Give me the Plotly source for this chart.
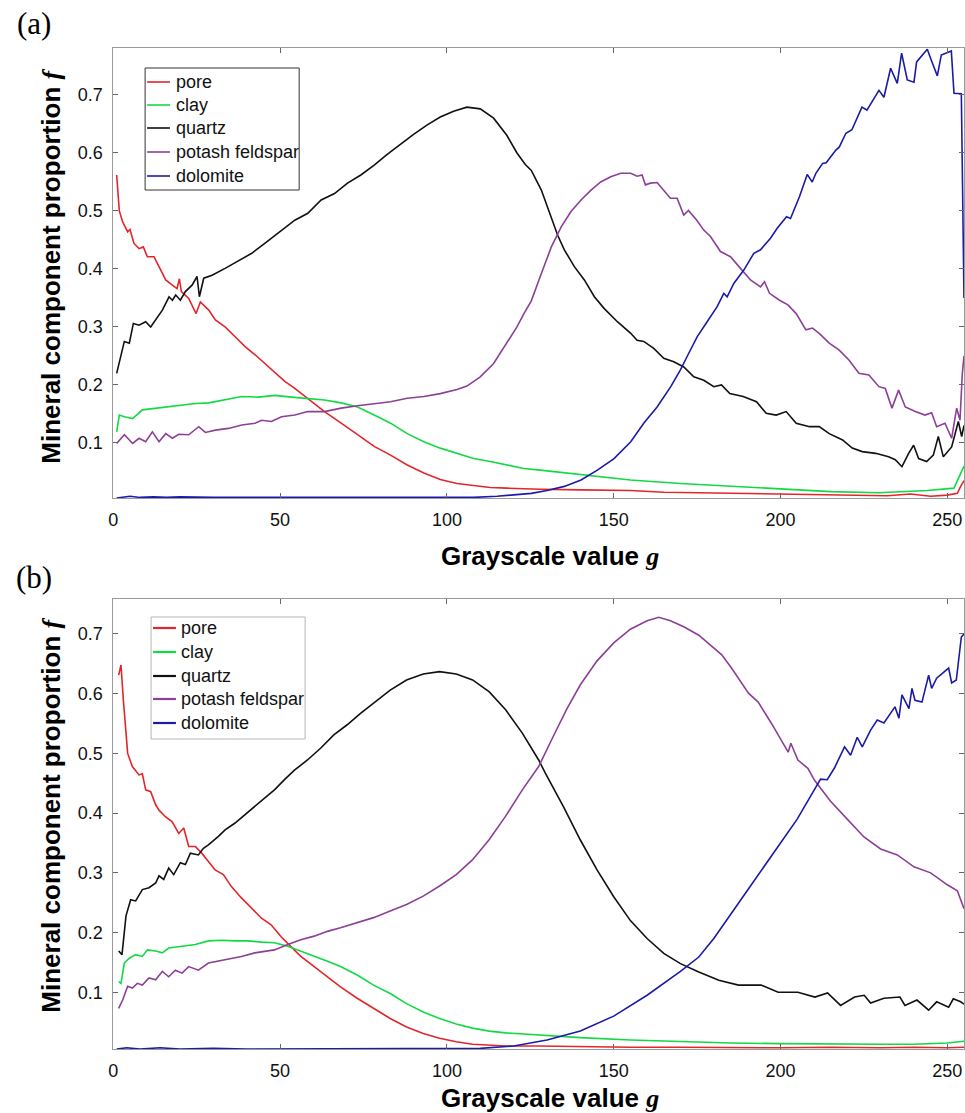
import plotly.graph_objects as go

# ---------------- Panel (a) data ----------------
a_pore_g = [1, 1.8, 2.8, 4.3, 5, 6.2, 7.7, 9, 10.2, 12.2, 13.7, 15.7, 17.7, 19.1, 19.8, 20.4, 22.6, 24.8, 26.1, 28.6, 30.6, 33.5, 36.5, 39.5, 42.5, 45.4, 48.4, 51.4, 54.4, 58.3, 63.3, 68.3, 73.2, 78.2, 83.1, 88.1, 93.1, 98, 103, 108, 113, 118, 128, 140, 155, 165, 175, 188, 200, 212, 224, 232, 239, 245, 250, 253, 254, 255]
a_pore_f = [0.562, 0.500, 0.481, 0.464, 0.468, 0.444, 0.435, 0.438, 0.421, 0.421, 0.404, 0.381, 0.372, 0.366, 0.383, 0.361, 0.349, 0.323, 0.343, 0.329, 0.312, 0.300, 0.283, 0.266, 0.252, 0.237, 0.220, 0.206, 0.194, 0.177, 0.154, 0.134, 0.114, 0.094, 0.079, 0.062, 0.048, 0.037, 0.030, 0.026, 0.023, 0.022, 0.020, 0.019, 0.018, 0.015, 0.014, 0.013, 0.012, 0.011, 0.010, 0.009, 0.012, 0.008, 0.010, 0.013, 0.025, 0.035]

a_clay_g = [1, 1.8, 3.3, 5.8, 8.7, 12.7, 16.7, 20.6, 24.6, 28.6, 33.5, 38.5, 43.5, 48.4, 53.4, 58.3, 63.3, 68.3, 73.2, 78.2, 83.1, 88.1, 93.1, 98, 103, 108, 113, 118, 123, 128, 140, 155, 170, 185, 200.7, 215, 229.5, 244, 252, 254, 255]
a_clay_f = [0.119, 0.148, 0.145, 0.142, 0.157, 0.160, 0.162, 0.165, 0.168, 0.169, 0.174, 0.180, 0.179, 0.182, 0.179, 0.177, 0.174, 0.169, 0.162, 0.148, 0.134, 0.116, 0.102, 0.091, 0.082, 0.073, 0.068, 0.062, 0.056, 0.053, 0.045, 0.036, 0.030, 0.025, 0.020, 0.016, 0.014, 0.018, 0.022, 0.048, 0.060]

a_quartz_g = [1, 2.3, 3.3, 4.8, 6, 7.7, 9.7, 11.2, 12.7, 14.7, 16.7, 17.7, 18.7, 20.1, 21.6, 23.6, 25.1, 25.8, 27.1, 29.6, 33.5, 38.5, 41.5, 45.4, 50.4, 54.4, 58.3, 62.3, 66.3, 70.2, 74.2, 78.2, 82, 86, 90, 94, 98, 102, 106, 110, 114, 118, 121, 123.5, 125.3, 128.3, 131.3, 133.2, 135.2, 138.2, 141.2, 144.2, 147.1, 151.1, 155.1, 157, 159, 162, 165, 168, 171, 174, 177, 180, 182.3, 184.8, 188.8, 192.8, 195.7, 198.7, 201.7, 204.7, 208.7, 211.6, 214.6, 218.6, 221.5, 224.5, 228.5, 232.4, 234.4, 236.4, 238.4, 239.9, 241.4, 243.8, 245.8, 247.3, 248.8, 251.3, 253.3, 254.3, 255]
a_quartz_f = [0.220, 0.254, 0.275, 0.272, 0.306, 0.303, 0.309, 0.300, 0.312, 0.329, 0.352, 0.346, 0.355, 0.346, 0.361, 0.372, 0.387, 0.352, 0.384, 0.389, 0.401, 0.418, 0.427, 0.444, 0.467, 0.484, 0.496, 0.519, 0.530, 0.548, 0.562, 0.579, 0.597, 0.615, 0.632, 0.648, 0.662, 0.672, 0.679, 0.676, 0.660, 0.630, 0.600, 0.580, 0.570, 0.536, 0.490, 0.458, 0.433, 0.404, 0.381, 0.352, 0.332, 0.309, 0.289, 0.277, 0.275, 0.263, 0.246, 0.240, 0.231, 0.214, 0.208, 0.197, 0.200, 0.185, 0.180, 0.171, 0.151, 0.148, 0.154, 0.134, 0.128, 0.128, 0.116, 0.105, 0.091, 0.085, 0.082, 0.076, 0.071, 0.059, 0.082, 0.096, 0.073, 0.068, 0.079, 0.111, 0.076, 0.093, 0.137, 0.111, 0.130]

a_feld_g = [1, 3.3, 5.8, 7.7, 9.7, 11.7, 13.7, 15.7, 17.7, 19.6, 22.6, 25.6, 27.6, 30.6, 34.5, 38.5, 42.5, 44.4, 47.4, 50.4, 54.4, 58.3, 63.3, 68.3, 73.2, 78.2, 83.1, 88.1, 93.1, 98, 103, 106, 110, 114, 118, 121, 123, 125.3, 128.3, 131.3, 134.3, 137.2, 140.2, 143.2, 146.1, 149.1, 152.1, 155.1, 157, 158.5, 159.5, 161, 163, 165, 167, 169, 171, 172.4, 174.9, 177, 179, 182, 185, 188, 191, 194, 195.2, 196.7, 199.7, 202.2, 204.7, 207.6, 209.6, 211.6, 214.6, 217.6, 220.5, 223.5, 226.5, 229.5, 231.4, 233.4, 235.4, 237.4, 240.4, 243.3, 245.3, 246.8, 249.3, 251.3, 252.8, 253.8, 254.5, 255]
a_feld_f = [0.099, 0.114, 0.099, 0.108, 0.102, 0.119, 0.102, 0.116, 0.108, 0.115, 0.114, 0.128, 0.118, 0.122, 0.125, 0.131, 0.134, 0.139, 0.137, 0.145, 0.148, 0.154, 0.154, 0.160, 0.164, 0.168, 0.171, 0.177, 0.180, 0.185, 0.192, 0.198, 0.214, 0.237, 0.272, 0.300, 0.322, 0.345, 0.392, 0.438, 0.473, 0.499, 0.519, 0.536, 0.550, 0.559, 0.565, 0.565, 0.560, 0.562, 0.545, 0.548, 0.549, 0.536, 0.522, 0.522, 0.493, 0.501, 0.484, 0.467, 0.456, 0.430, 0.421, 0.401, 0.381, 0.369, 0.378, 0.358, 0.346, 0.338, 0.323, 0.295, 0.298, 0.289, 0.272, 0.260, 0.243, 0.220, 0.217, 0.197, 0.194, 0.160, 0.191, 0.162, 0.154, 0.148, 0.152, 0.128, 0.134, 0.108, 0.160, 0.139, 0.220, 0.250]

a_dolo_g = [1, 5, 8, 12, 16, 20, 30, 40, 50, 60, 70, 80, 90, 100, 108, 115, 120, 125.3, 130, 135.2, 140.2, 145.1, 150.1, 155.1, 159, 163, 167.1, 170, 172, 175, 178, 181, 183, 184, 186, 189, 192, 194, 197, 199, 201.8, 203, 205.7, 208, 209.5, 210.6, 212.6, 213.7, 214.6, 216.6, 217.6, 219.6, 221.4, 224.4, 225.9, 229.5, 231, 233, 235, 236.3, 238, 240, 240.8, 244, 245.2, 247, 248.2, 251.2, 252, 254.2, 255]
a_dolo_f = [0.005, 0.008, 0.006, 0.007, 0.006, 0.007, 0.006, 0.006, 0.005, 0.005, 0.005, 0.005, 0.005, 0.005, 0.006, 0.008, 0.010, 0.013, 0.018, 0.025, 0.036, 0.053, 0.073, 0.102, 0.134, 0.162, 0.197, 0.226, 0.249, 0.283, 0.309, 0.335, 0.358, 0.352, 0.375, 0.398, 0.427, 0.433, 0.453, 0.470, 0.490, 0.487, 0.525, 0.563, 0.550, 0.565, 0.582, 0.583, 0.590, 0.605, 0.610, 0.634, 0.640, 0.679, 0.674, 0.708, 0.696, 0.746, 0.720, 0.772, 0.726, 0.722, 0.757, 0.779, 0.760, 0.733, 0.769, 0.776, 0.703, 0.702, 0.350]

# ---------------- Panel (b) data ----------------
b_pore_g = [1.6, 2.3, 3, 4.3, 5.7, 7.7, 8.7, 9.7, 11.2, 12.7, 13.7, 15.6, 17.6, 19.6, 21.1, 22.6, 24.6, 26.5, 28.5, 30.5, 33, 35.4, 38.4, 41.4, 44.4, 47.3, 50.3, 53.3, 56.2, 60.2, 64.2, 68.1, 73.1, 78, 83, 87.9, 92.9, 97.8, 102.8, 107.7, 117.6, 127.5, 140, 155, 170, 185, 200, 215, 230, 240, 250, 255]
b_pore_f = [0.631, 0.648, 0.590, 0.500, 0.478, 0.464, 0.466, 0.439, 0.436, 0.414, 0.405, 0.394, 0.386, 0.366, 0.375, 0.344, 0.344, 0.333, 0.319, 0.305, 0.297, 0.277, 0.258, 0.241, 0.224, 0.213, 0.193, 0.176, 0.160, 0.143, 0.126, 0.109, 0.090, 0.073, 0.056, 0.042, 0.031, 0.023, 0.017, 0.013, 0.010, 0.010, 0.009, 0.008, 0.008, 0.007, 0.007, 0.008, 0.007, 0.008, 0.007, 0.008]

b_clay_g = [1.6, 2.3, 3.3, 4.8, 6.7, 8.7, 10.2, 12.7, 14.7, 16.6, 20.6, 24.6, 28.5, 32.5, 36.4, 40.4, 44.4, 48.3, 52.3, 56.2, 60.2, 64.2, 68.1, 73.1, 78, 83, 87.9, 92.9, 97.8, 102.8, 107.7, 112.7, 117.6, 122.6, 128.5, 140, 155, 170, 185, 200, 215, 230, 240, 250, 255]
b_clay_f = [0.118, 0.115, 0.149, 0.157, 0.163, 0.160, 0.171, 0.169, 0.166, 0.174, 0.177, 0.180, 0.186, 0.187, 0.186, 0.186, 0.184, 0.183, 0.177, 0.169, 0.160, 0.152, 0.143, 0.129, 0.112, 0.098, 0.081, 0.067, 0.056, 0.047, 0.040, 0.035, 0.032, 0.030, 0.028, 0.024, 0.020, 0.017, 0.015, 0.014, 0.013, 0.013, 0.013, 0.015, 0.018]

b_quartz_g = [1.6, 2.6, 3.8, 5.2, 6.7, 8.7, 10.7, 12.7, 13.7, 15.1, 16.6, 18.1, 20.1, 21.6, 23.1, 25.5, 27, 28.5, 31.5, 33.5, 36.4, 39.4, 42.4, 45.3, 48.3, 51.3, 54.3, 58.2, 62.2, 66.1, 70.1, 74.1, 78, 83, 87.9, 92.9, 97.8, 102.8, 107.7, 112.7, 117.6, 122.6, 127.5, 129.5, 135, 140, 145, 150, 155, 160, 165, 170, 175.5, 181.5, 187.4, 194.2, 199.3, 205.2, 210.3, 214.1, 218, 222.2, 225.1, 227, 231, 235.8, 237.3, 240.9, 244.4, 246.8, 250.4, 251.8, 254, 255]
b_quartz_f = [0.169, 0.163, 0.228, 0.255, 0.253, 0.272, 0.275, 0.283, 0.295, 0.289, 0.308, 0.297, 0.317, 0.314, 0.333, 0.330, 0.341, 0.347, 0.361, 0.372, 0.383, 0.397, 0.411, 0.425, 0.439, 0.456, 0.472, 0.489, 0.509, 0.531, 0.548, 0.567, 0.584, 0.606, 0.623, 0.633, 0.637, 0.633, 0.623, 0.603, 0.573, 0.534, 0.489, 0.467, 0.410, 0.355, 0.305, 0.260, 0.220, 0.190, 0.165, 0.148, 0.134, 0.120, 0.112, 0.112, 0.100, 0.100, 0.092, 0.099, 0.078, 0.092, 0.095, 0.082, 0.090, 0.092, 0.078, 0.087, 0.070, 0.084, 0.075, 0.089, 0.084, 0.080]

b_feld_g = [1.6, 2.8, 4.3, 5.7, 7.2, 8.7, 10.7, 12.7, 14.7, 16.6, 18.6, 20.6, 22.6, 25.5, 28.5, 31.5, 34.5, 38.4, 42.4, 45.3, 48.3, 52.3, 56.2, 60.2, 64.2, 68.1, 73.1, 78, 83, 87.9, 92.9, 97.8, 102.8, 107.7, 112.7, 117.6, 122.6, 127.5, 132, 136, 140, 145, 150, 155, 160, 163.5, 167, 171, 175.5, 182.4, 185.3, 190.4, 193.3, 197.2, 202.3, 203.1, 205.2, 208.2, 210.2, 215, 220, 225, 230, 235, 240, 245, 250, 253, 255]
b_feld_f = [0.073, 0.087, 0.110, 0.107, 0.115, 0.112, 0.124, 0.121, 0.135, 0.126, 0.137, 0.132, 0.143, 0.137, 0.149, 0.152, 0.156, 0.160, 0.166, 0.169, 0.171, 0.180, 0.188, 0.194, 0.202, 0.208, 0.216, 0.225, 0.236, 0.247, 0.261, 0.278, 0.297, 0.322, 0.356, 0.395, 0.439, 0.478, 0.530, 0.575, 0.615, 0.655, 0.685, 0.708, 0.722, 0.728, 0.722, 0.712, 0.698, 0.665, 0.643, 0.601, 0.586, 0.551, 0.502, 0.517, 0.489, 0.475, 0.455, 0.420, 0.390, 0.360, 0.340, 0.330, 0.310, 0.300, 0.280, 0.270, 0.240]

b_dolo_g = [1, 4, 8, 14, 20, 30, 40, 50, 60, 70, 80, 90, 100, 110, 120, 130, 140, 150, 160, 170, 175.5, 180, 190, 200, 205, 212, 214, 216.2, 219.2, 221, 223, 224.5, 227, 229, 231, 234.3, 235.5, 236.4, 238.5, 239.4, 240.3, 242.4, 244.4, 245.3, 246.8, 250.4, 251.3, 252.7, 254.2, 255]
b_dolo_f = [0.005, 0.007, 0.005, 0.007, 0.005, 0.006, 0.005, 0.005, 0.005, 0.005, 0.005, 0.005, 0.005, 0.006, 0.010, 0.020, 0.035, 0.060, 0.095, 0.135, 0.159, 0.190, 0.270, 0.350, 0.390, 0.457, 0.456, 0.476, 0.511, 0.497, 0.527, 0.511, 0.539, 0.556, 0.551, 0.578, 0.559, 0.598, 0.575, 0.609, 0.589, 0.586, 0.631, 0.609, 0.626, 0.643, 0.618, 0.623, 0.695, 0.700]

names = ["pore", "clay", "quartz", "potash feldspar", "dolomite"]
colors = ["#e2262b", "#12d944", "#111111", "#8c3f96", "#1b1ba8"]

W, H = 965, 1113
fig = go.Figure()

panel_a = [(a_pore_g, a_pore_f), (a_clay_g, a_clay_f), (a_quartz_g, a_quartz_f), (a_feld_g, a_feld_f), (a_dolo_g, a_dolo_f)]
panel_b = [(b_pore_g, b_pore_f), (b_clay_g, b_clay_f), (b_quartz_g, b_quartz_f), (b_feld_g, b_feld_f), (b_dolo_g, b_dolo_f)]

for (gx, fy), nm, c in zip(panel_a, names, colors):
    fig.add_trace(go.Scatter(x=gx, y=fy, mode="lines", name=nm, line=dict(color=c, width=1.6),
                             xaxis="x", yaxis="y", showlegend=False))
for (gx, fy), nm, c in zip(panel_b, names, colors):
    fig.add_trace(go.Scatter(x=gx, y=fy, mode="lines", name=nm, line=dict(color=c, width=1.6),
                             xaxis="x2", yaxis="y2", showlegend=False))

tickfont = dict(family="Liberation Sans, Arial, sans-serif", size=18, color="#111")
common_x = dict(range=[0, 255], tickvals=[0, 50, 100, 150, 200, 250], showgrid=False, zeroline=False,
                showline=True, linecolor="#9a9a9a", linewidth=1, mirror="ticks", ticks="inside",
                ticklen=5, tickcolor="#666", tickfont=tickfont, ticklabelstandoff=5)
common_y = dict(tickvals=[0.1, 0.2, 0.3, 0.4, 0.5, 0.6, 0.7], showgrid=False, zeroline=False,
                showline=True, linecolor="#9a9a9a", linewidth=1, mirror="ticks", ticks="inside",
                ticklen=5, tickcolor="#666", tickfont=tickfont, ticklabelstandoff=6)


def px_x(p):
    return p / W


def px_y(p):
    return 1 - p / H


fig.update_layout(
    width=W, height=H, margin=dict(l=0, r=0, t=0, b=0),
    paper_bgcolor="white", plot_bgcolor="white", showlegend=False, hovermode=False,
    xaxis=dict(domain=[px_x(109), 1.0], anchor="y", **common_x),
    yaxis=dict(domain=[px_y(498), px_y(48)], range=[0.005, 0.781], anchor="x", **common_y),
    xaxis2=dict(domain=[px_x(109), 1.0], anchor="y2", **common_x),
    yaxis2=dict(domain=[px_y(1049), px_y(599)], range=[0.005, 0.7586], anchor="x2", **common_y),
)

# legend boxes (drawn in pixel positions of the reference)
legend_specs = [
    dict(box=(141, 68, 296, 190), border="#333333", lx=(143, 166), tx=170, ys=[82, 105, 128, 152, 176], lw=1.6),
    dict(box=(147, 617, 302, 739), border="#b5b5b5", lx=(149, 172), tx=175, ys=[628, 652, 676, 699, 723], lw=2.2),
]
shapes = []
ann = []
legend_font = dict(family="Liberation Sans, Arial, sans-serif", size=18, color="#111")
for spec in legend_specs:
    x0, y0, x1, y1 = spec["box"]
    shapes.append(dict(type="rect", xref="paper", yref="paper", x0=px_x(x0), x1=px_x(x1),
                       y0=px_y(y1), y1=px_y(y0), line=dict(color=spec["border"], width=1),
                       fillcolor="white", layer="above"))
    for nm, c, yy in zip(names, colors, spec["ys"]):
        shapes.append(dict(type="line", xref="paper", yref="paper", x0=px_x(spec["lx"][0]),
                           x1=px_x(spec["lx"][1]), y0=px_y(yy), y1=px_y(yy),
                           line=dict(color=c, width=spec["lw"]), layer="above"))
        ann.append(dict(text=nm, x=px_x(spec["tx"]), y=px_y(yy), xref="paper", yref="paper",
                        showarrow=False, xanchor="left", yanchor="middle", font=legend_font))

title_font = dict(family="Liberation Sans, Arial, sans-serif", size=26, color="#000")
serif_it = "<span style='font-family:Liberation Serif, Times New Roman, serif'><i>%s</i></span>"
for yc_title, ycx, lab_y, lab in [(266, 556, 23, "(a)"), (815, 1098, 578, "(b)")]:
    ann.append(dict(text="<b>Mineral component proportion " + serif_it % "f" + "</b>",
                    x=px_x(46), y=px_y(yc_title), xref="paper", yref="paper", showarrow=False,
                    textangle=-90, font=title_font, xanchor="center", yanchor="middle"))
    ann.append(dict(text="<b>Grayscale value " + serif_it % "g" + "</b>",
                    x=px_x(548), y=px_y(ycx), xref="paper", yref="paper", showarrow=False,
                    font=title_font, xanchor="center", yanchor="middle"))
    ann.append(dict(text=lab, x=px_x(29), y=px_y(lab_y), xref="paper", yref="paper", showarrow=False,
                    font=dict(family="Liberation Serif, Times New Roman, serif", size=31, color="#000"),
                    xanchor="center", yanchor="middle"))
fig.update_layout(annotations=ann, shapes=shapes)

fig.write_html("out.html", config={"displayModeBar": False, "staticPlot": False},
               post_script="document.body.style.margin='0px';document.body.style.padding='0px';"
                           "document.documentElement.style.overflow='hidden';")
